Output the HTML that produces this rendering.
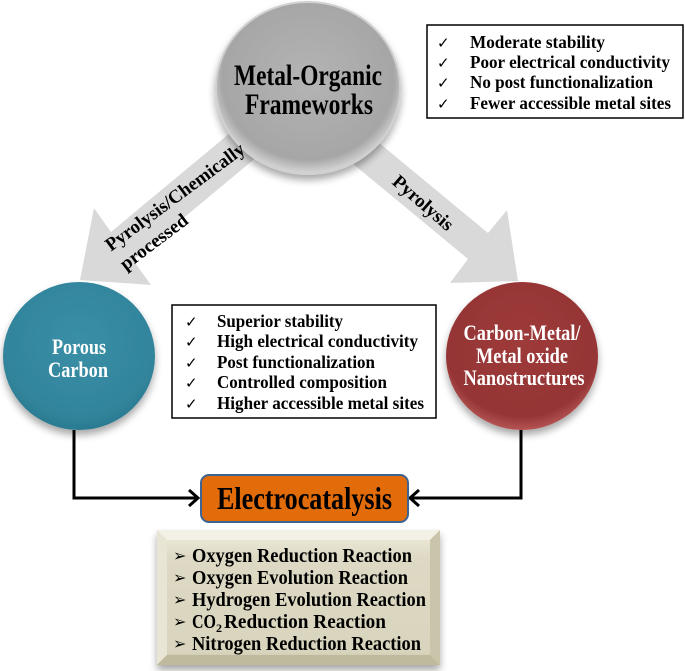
<!DOCTYPE html>
<html><head><meta charset="utf-8"><style>
html,body{margin:0;padding:0;background:#fff;}
svg{display:block;font-family:"Liberation Serif",serif;font-weight:bold;}
</style></head><body>
<svg width="685" height="671" viewBox="0 0 685 671" xmlns="http://www.w3.org/2000/svg">
<defs>
<radialGradient id="gG" cx="50%" cy="45%" r="55%"><stop offset="0" stop-color="#b4b4b4"/><stop offset="0.85" stop-color="#a6a6a6"/><stop offset="1" stop-color="#d8d8d8"/></radialGradient>
<radialGradient id="gT" cx="50%" cy="40%" r="60%"><stop offset="0" stop-color="#3a8fa6"/><stop offset="0.85" stop-color="#31849b"/><stop offset="1" stop-color="#2a7a90"/></radialGradient>
<radialGradient id="gR" cx="50%" cy="40%" r="60%"><stop offset="0" stop-color="#9e3a3a"/><stop offset="0.85" stop-color="#953535"/><stop offset="1" stop-color="#b55454"/></radialGradient>
<linearGradient id="gB" x1="0" y1="0" x2="0" y2="1"><stop offset="0" stop-color="#efedde"/><stop offset="0.2" stop-color="#ddd9c4"/><stop offset="0.9" stop-color="#d8d4bd"/><stop offset="1" stop-color="#c8c3a8"/></linearGradient>
<filter id="sh" x="-20%" y="-20%" width="140%" height="150%"><feGaussianBlur in="SourceAlpha" stdDeviation="4"/><feOffset dy="5"/><feComponentTransfer><feFuncA type="linear" slope="0.35"/></feComponentTransfer><feMerge><feMergeNode/><feMergeNode in="SourceGraphic"/></feMerge></filter>
</defs>

<polygon points="242,123 111,232 94,208 80,280 151,285 133,260 264,151" fill="#d9d9d9"/>
<polygon points="349,118 488,233 507,210 518,281 450,283 468,259 329,144" fill="#d9d9d9"/>

<ellipse cx="308" cy="88" rx="92" ry="86" fill="url(#gG)" stroke="#d0d0d0" stroke-width="2" filter="url(#sh)"/>
<text x="308" y="85" font-size="30" text-anchor="middle" textLength="148" lengthAdjust="spacingAndGlyphs">Metal-Organic</text>
<text x="309" y="114" font-size="30" text-anchor="middle" textLength="128" lengthAdjust="spacingAndGlyphs">Frameworks</text>

<text transform="translate(175,197) rotate(-36.5)" x="0" y="6" font-size="19" text-anchor="middle" textLength="168" lengthAdjust="spacingAndGlyphs">Pyrolysis/Chemically</text>
<text transform="translate(154,242) rotate(-37)" x="0" y="6" font-size="19" text-anchor="middle" textLength="80" lengthAdjust="spacingAndGlyphs">processed</text>
<text transform="translate(423,203) rotate(41)" x="0" y="6" font-size="19" text-anchor="middle" textLength="74" lengthAdjust="spacingAndGlyphs">Pyrolysis</text>

<rect x="427" y="25" width="256" height="93" fill="#fff" stroke="#000" stroke-width="1.5"/>
<g font-size="18">
<text x="437" y="48" font-weight="normal" font-family="DejaVu Sans" font-size="15">✓</text>
<text x="437" y="68" font-weight="normal" font-family="DejaVu Sans" font-size="15">✓</text>
<text x="437" y="88" font-weight="normal" font-family="DejaVu Sans" font-size="15">✓</text>
<text x="437" y="109" font-weight="normal" font-family="DejaVu Sans" font-size="15">✓</text>
<text x="470" y="48" textLength="135" lengthAdjust="spacingAndGlyphs">Moderate stability</text>
<text x="470" y="68" textLength="200" lengthAdjust="spacingAndGlyphs">Poor electrical conductivity</text>
<text x="470" y="88" textLength="183" lengthAdjust="spacingAndGlyphs">No post functionalization</text>
<text x="470" y="109" textLength="201" lengthAdjust="spacingAndGlyphs">Fewer accessible metal sites</text>
</g>

<ellipse cx="79" cy="356" rx="76" ry="74" fill="url(#gT)" filter="url(#sh)"/>
<text x="79" y="354" font-size="22" fill="#fff" text-anchor="middle" textLength="54" lengthAdjust="spacingAndGlyphs">Porous</text>
<text x="78" y="377" font-size="22" fill="#fff" text-anchor="middle" textLength="60" lengthAdjust="spacingAndGlyphs">Carbon</text>

<ellipse cx="522" cy="356" rx="76" ry="74" fill="url(#gR)" filter="url(#sh)"/>
<text x="522" y="340" font-size="22" fill="#fff" text-anchor="middle" textLength="117" lengthAdjust="spacingAndGlyphs">Carbon-Metal/</text>
<text x="522" y="363" font-size="22" fill="#fff" text-anchor="middle" textLength="92" lengthAdjust="spacingAndGlyphs">Metal oxide</text>
<text x="524" y="385" font-size="22" fill="#fff" text-anchor="middle" textLength="121" lengthAdjust="spacingAndGlyphs">Nanostructures</text>

<rect x="172" y="305" width="264" height="113" fill="#fff" stroke="#000" stroke-width="1.5"/>
<g font-size="18">
<text x="185" y="327" font-weight="normal" font-family="DejaVu Sans" font-size="15">✓</text>
<text x="185" y="347" font-weight="normal" font-family="DejaVu Sans" font-size="15">✓</text>
<text x="185" y="368" font-weight="normal" font-family="DejaVu Sans" font-size="15">✓</text>
<text x="185" y="388" font-weight="normal" font-family="DejaVu Sans" font-size="15">✓</text>
<text x="185" y="409" font-weight="normal" font-family="DejaVu Sans" font-size="15">✓</text>
<text x="217" y="327" textLength="126" lengthAdjust="spacingAndGlyphs">Superior stability</text>
<text x="217" y="347" textLength="201" lengthAdjust="spacingAndGlyphs">High electrical conductivity</text>
<text x="217" y="368" textLength="158" lengthAdjust="spacingAndGlyphs">Post functionalization</text>
<text x="217" y="388" textLength="170" lengthAdjust="spacingAndGlyphs">Controlled composition</text>
<text x="217" y="409" textLength="207" lengthAdjust="spacingAndGlyphs">Higher accessible metal sites</text>
</g>

<polyline points="74,430 74,498 198,498" fill="none" stroke="#000" stroke-width="3"/>
<polyline points="189,490 198,498 189,506" fill="none" stroke="#000" stroke-width="3"/>
<polyline points="521,430 521,498 410,498" fill="none" stroke="#000" stroke-width="3"/>
<polyline points="419,490 410,498 419,506" fill="none" stroke="#000" stroke-width="3"/>

<rect x="201" y="475" width="207" height="47" rx="8" fill="#e36c0a" stroke="#3e6494" stroke-width="2"/>
<text x="304.5" y="509" font-size="32" text-anchor="middle" textLength="175" lengthAdjust="spacingAndGlyphs">Electrocatalysis</text>

<g filter="url(#sh)">
<rect x="157" y="530" width="283" height="135" fill="url(#gB)"/>
<polygon points="157,530 440,530 430,540 167,540" fill="#f3f1e6"/>
<polygon points="157,530 167,540 167,655 157,665" fill="#e8e5d4"/>
<polygon points="440,530 430,540 430,655 440,665" fill="#c9c4aa"/>
<polygon points="157,665 167,655 430,655 440,665" fill="#bfba9e"/>
</g>
<g font-size="20">
<text x="173" y="561" font-family="DejaVu Sans" font-weight="normal" font-size="16">➢</text>
<text x="173" y="583" font-family="DejaVu Sans" font-weight="normal" font-size="16">➢</text>
<text x="173" y="605" font-family="DejaVu Sans" font-weight="normal" font-size="16">➢</text>
<text x="173" y="627" font-family="DejaVu Sans" font-weight="normal" font-size="16">➢</text>
<text x="173" y="649" font-family="DejaVu Sans" font-weight="normal" font-size="16">➢</text>
<text x="192" y="562" textLength="220" lengthAdjust="spacingAndGlyphs">Oxygen Reduction Reaction</text>
<text x="192" y="584" textLength="216" lengthAdjust="spacingAndGlyphs">Oxygen Evolution Reaction</text>
<text x="192" y="606" textLength="234" lengthAdjust="spacingAndGlyphs">Hydrogen Evolution Reaction</text>
<text x="192" y="628" textLength="24" lengthAdjust="spacingAndGlyphs">CO</text>
<text x="216" y="632" font-size="12">2</text>
<text x="224" y="628" textLength="162" lengthAdjust="spacingAndGlyphs">Reduction Reaction</text>
<text x="192" y="650" textLength="229" lengthAdjust="spacingAndGlyphs">Nitrogen Reduction Reaction</text>
</g>
</svg>
</body></html>
